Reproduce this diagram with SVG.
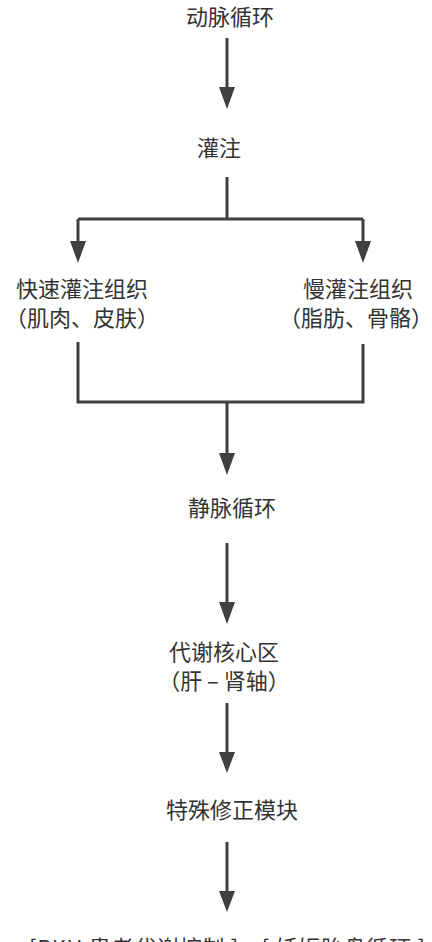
<svg xmlns="http://www.w3.org/2000/svg" width="432" height="942" viewBox="0 0 432 942">
<style>
text{font-family:"Noto Sans CJK SC","Liberation Serif",serif;font-size:22px;fill:#333;text-anchor:middle}
.c{fill:none;stroke:#404040;stroke-width:3}
.h{fill:#404040}
</style>
<rect width="432" height="942" fill="#fff"/>
<g id="connectors">
<line class="c" x1="227" y1="38" x2="227" y2="90"/>
<polygon class="h" points="219,87 235,87 227,109"/>
<path class="c" d="M227,177 V219 M78,219 H363 M78,219 V244 M363,219 V244"/>
<polygon class="h" points="70,241 86,241 78,263"/>
<polygon class="h" points="355,241 371,241 363,263"/>
<path class="c" d="M78,342 V402 H363 V344 M227,402 V456"/>
<polygon class="h" points="219,453 235,453 227,475"/>
<line class="c" x1="227" y1="543" x2="227" y2="605"/>
<polygon class="h" points="219,602 235,602 227,624"/>
<line class="c" x1="227" y1="703" x2="227" y2="755"/>
<polygon class="h" points="219,752 235,752 227,773"/>
<line class="c" x1="227" y1="842" x2="227" y2="894"/>
<polygon class="h" points="219,891 235,891 227,912"/>
</g>
<g id="n1"><text x="230" y="25">动脉循环</text></g>
<g id="n2"><text x="219" y="156">灌注</text></g>
<g id="n3"><text x="82" y="297">快速灌注组织</text><text x="82" y="326">（肌肉、皮肤）</text></g>
<g id="n4"><text x="358" y="297">慢灌注组织</text><text x="356" y="326">（脂肪、骨骼）</text></g>
<g id="n5"><text x="232" y="516">静脉循环</text></g>
<g id="n6"><text x="224" y="660">代谢核心区</text><text x="224" y="689">（肝 – 肾轴）</text></g>
<g id="n7"><text x="232" y="818">特殊修正模块</text></g>
<g id="n8"><text x="227" y="956" textLength="396" lengthAdjust="spacing">[PKU 患者代谢控制 ]、[ 妊娠胎盘循环 ]</text></g>
</svg>
